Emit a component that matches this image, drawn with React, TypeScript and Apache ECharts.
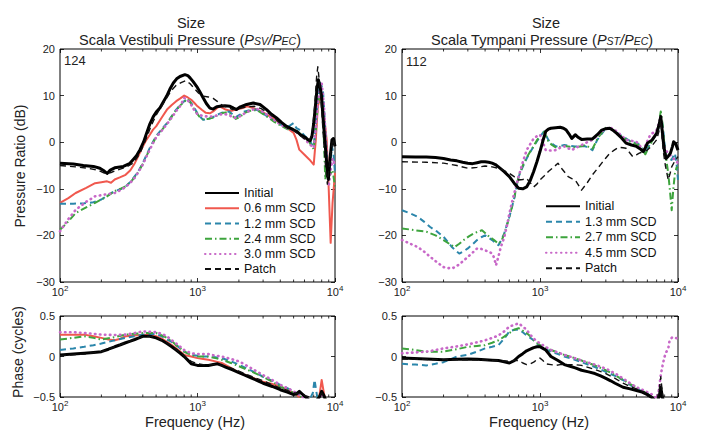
import React, { useEffect, useRef } from 'react';
import * as echarts from 'echarts';

const FONT = '"Liberation Sans", Arial, Helvetica, sans-serif';

// ---------- Data (frequency in Hz, value) ----------
const svInitial = [[100,-4.5],[125,-4.7],[148,-5.0],[175,-5.2],[195,-5.6],[210,-6.2],[220,-6.7],[232,-6.0],[250,-5.5],[289,-5.2],[320,-4.6],[341,-3.7],[360,-2.9],[382,-1.6],[405,0],[427,2.0],[450,3.9],[477,5.5],[505,6.6],[534,7.4],[565,8.7],[597,9.9],[630,11.4],[667,12.7],[705,13.6],[746,14.1],[810,14.5],[850,14.3],[883,13.8],[930,13.0],[985,12.0],[1040,10.8],[1101,9.5],[1160,8.3],[1231,7.3],[1300,7.1],[1380,7.6],[1458,7.7],[1580,7.8],[1724,7.7],[1830,7.3],[1921,7.0],[2050,7.6],[2276,8.1],[2546,8.4],[2846,8.1],[3180,7.0],[3450,6.0],[3760,5.2],[4100,4.2],[4450,3.4],[4800,2.9],[5270,2.3],[5600,1.6],[5880,1.3],[6150,0.9],[6390,0.5],[6600,0.3],[6800,1.3],[7000,4.0],[7200,7.7],[7400,11.5],[7570,13.4],[7750,12.2],[7960,10.2],[8200,5.0],[8430,0.5],[8700,-4.5],[8950,-8],[9200,-3.5],[9500,0.5],[9750,0.8],[10000,-0.9]];
const svPatch = [[100,-5.0],[130,-5.3],[160,-5.6],[190,-6.0],[215,-6.8],[235,-6.5],[260,-6.0],[300,-5.4],[340,-4.5],[380,-2.5],[420,0.5],[460,3.5],[500,5.8],[550,7.8],[600,9.6],[650,11.2],[700,12.2],[760,12.8],[820,13.2],[880,12.6],[950,11.5],[1020,10.5],[1100,9.9],[1200,9.7],[1300,9.4],[1400,8.7],[1500,8.0],[1650,7.5],[1800,7.0],[2000,7.2],[2300,7.6],[2600,7.7],[2900,7.2],[3200,6.5],[3600,5.3],[4000,4.0],[4500,3.0],[5000,2.5],[5500,1.5],[6000,0.7],[6500,0.4],[6800,1.5],[7100,7.5],[7350,14.0],[7500,16.2],[7700,13.0],[7950,8.0],[8200,2.0],[8500,-4.5],[8800,-9.0],[9100,-5.0],[9400,-1.0],[9700,0.8],[10000,-1.5]];
const sv06 = [[100,-13],[115,-12],[130,-10.9],[155,-9.8],[180,-8.8],[200,-8.6],[220,-8.4],[235,-8.7],[250,-8.0],[275,-7.5],[300,-7.0],[325,-6.0],[350,-4.5],[375,-2.7],[400,-0.9],[425,0.5],[450,1.6],[475,2.7],[500,3.4],[550,5.3],[600,7.0],[650,8.0],[700,8.8],[750,9.4],[800,10.0],[850,9.6],[900,9.1],[950,8.4],[1000,7.7],[1080,6.9],[1150,6.3],[1230,6.2],[1300,6.6],[1380,7.3],[1450,7.7],[1530,7.3],[1600,7.0],[1750,6.7],[1900,7.0],[2100,7.3],[2300,7.7],[2500,7.4],[2700,7.0],[3000,6.4],[3200,5.9],[3600,5.0],[4000,4.1],[4500,3.0],[5000,2.0],[5250,0.5],[5500,-1.6],[6000,-2.7],[6500,-3.7],[7000,-4.8],[7250,0.5],[7500,7.7],[7750,9.2],[8000,9.5],[8300,6.0],[8700,0.5],[9000,-10],[9300,-21.6],[9600,-13],[10000,-6.6]];
const sv12 = [[100,-13.2],[125,-13.2],[150,-13.1],[175,-12.9],[200,-12.3],[225,-11.3],[250,-10.5],[275,-10.1],[300,-9.5],[325,-8.5],[350,-7.3],[375,-6.0],[400,-4.5],[425,-2.8],[450,-1.2],[475,0.1],[500,1.3],[550,2.8],[600,4.1],[650,5.6],[700,7.0],[750,8.0],[800,8.8],[850,9.3],[900,8.4],[950,7.3],[1000,6.2],[1050,5.4],[1100,4.8],[1200,5.0],[1300,5.4],[1400,5.9],[1500,6.3],[1600,6.5],[1700,6.6],[1800,6.0],[1900,5.4],[2050,6.0],[2200,6.6],[2450,6.9],[2700,7.0],[2950,6.3],[3200,5.6],[3600,4.6],[4000,3.8],[4500,3.2],[5000,4.1],[5250,3.0],[5500,2.7],[6000,1.4],[6500,0.5],[6800,-0.5],[7000,-0.9],[7250,4.0],[7500,9.1],[7800,12.7],[8000,12.0],[8200,10.6],[8450,4.0],[8700,-2.3],[9000,-8],[9250,-4.5],[9500,-0.9],[9750,-2.5],[10000,-6.6]];
const sv24 = [[100,-18.8],[115,-17.0],[130,-15.2],[155,-14.0],[180,-13.0],[215,-11.8],[250,-10.5],[275,-10.0],[300,-9.5],[325,-8.6],[350,-7.5],[375,-6.2],[400,-4.7],[425,-3.0],[450,-1.5],[475,-0.1],[500,1.1],[550,2.6],[600,4.0],[650,5.5],[700,6.9],[750,7.9],[800,8.7],[850,9.3],[900,8.2],[950,7.0],[1000,6.0],[1050,5.2],[1100,4.9],[1200,5.0],[1300,5.3],[1400,5.8],[1500,6.2],[1600,6.4],[1700,6.3],[1800,5.6],[1900,5.0],[2050,5.5],[2200,6.3],[2450,6.8],[2700,6.9],[2950,6.2],[3200,5.5],[3600,4.4],[4000,3.6],[4500,2.8],[5000,2.9],[5500,2.0],[6000,1.0],[6500,0.0],[7000,-1.5],[7250,2.5],[7500,8.0],[7800,11.0],[8100,9.5],[8500,-8],[8800,-4],[9200,-7],[9600,-6],[10000,-9.5]];
const sv30 = [[100,-19.1],[115,-16.5],[130,-14.5],[155,-12.8],[180,-11.6],[215,-11.2],[250,-10.9],[275,-10.3],[300,-9.6],[325,-8.7],[350,-7.6],[375,-6.2],[400,-4.8],[425,-3.1],[450,-1.6],[475,-0.2],[500,1.0],[550,2.5],[600,3.9],[650,5.3],[700,6.7],[750,7.8],[800,9.5],[850,9.0],[900,8.0],[950,6.8],[1000,6.0],[1100,5.6],[1200,5.5],[1300,5.5],[1400,5.8],[1500,6.0],[1600,6.0],[1700,5.8],[1800,5.4],[1900,5.2],[2050,5.6],[2200,6.2],[2450,6.9],[2700,7.2],[2950,6.6],[3200,5.9],[3600,4.8],[4000,3.8],[4500,3.0],[5000,2.6],[5500,1.8],[6000,0.8],[6500,-0.4],[7000,-1.2],[7250,3.0],[7500,8.5],[7800,11.5],[8000,12.7],[8300,8.0],[8700,-3],[9000,-9.5],[9300,-6],[9600,-3.5],[10000,-5]];

const stInitial = [[100,-3.1],[125,-3.2],[150,-3.2],[175,-3.3],[200,-3.5],[225,-3.8],[250,-4.0],[275,-4.3],[300,-4.5],[325,-4.6],[350,-4.4],[375,-4.2],[400,-4.2],[425,-4.3],[450,-4.5],[475,-4.8],[500,-5.3],[550,-6.3],[600,-7.4],[650,-8.8],[700,-9.9],[750,-10.0],[800,-9.6],[850,-8.2],[900,-6.3],[950,-4.2],[1000,-2.0],[1050,0.3],[1100,2.3],[1150,2.8],[1200,3.0],[1300,3.1],[1400,3.2],[1480,3.0],[1550,2.6],[1620,1.8],[1700,0.8],[1750,1.2],[1800,1.6],[1900,1.0],[2000,0.6],[2200,0.7],[2400,0.7],[2600,1.6],[2800,2.6],[3000,2.9],[3200,3.0],[3400,2.5],[3600,1.9],[3900,0.9],[4200,-0.2],[4600,-0.6],[5000,-0.9],[5300,-1.4],[5600,-2.0],[5800,-1.2],[6000,-0.2],[6500,0.5],[7000,1.9],[7300,3.8],[7500,5.5],[7650,3.0],[7800,0.5],[8000,-2.0],[8200,-3.5],[8500,-3.0],[8800,-2.4],[9100,-1.0],[9300,0.1],[9600,-0.3],[10000,-1.7]];
const stPatch = [[100,-4.2],[150,-4.3],[200,-4.5],[250,-5.0],[300,-5.6],[350,-5.4],[400,-5.1],[450,-5.3],[500,-5.6],[550,-6.1],[600,-6.7],[650,-7.4],[700,-8.1],[750,-8.0],[800,-7.8],[850,-8.7],[900,-9.6],[950,-9.0],[1000,-8.1],[1075,-7.2],[1150,-6.3],[1250,-5.4],[1350,-4.5],[1450,-5.8],[1600,-7.4],[1700,-7.8],[1800,-8.1],[1900,-9.2],[2000,-10.3],[2200,-8.7],[2400,-7.0],[2600,-5.7],[2800,-4.5],[3000,-3.4],[3200,-2.4],[3450,-1.7],[3700,-1.1],[4000,-1.2],[4200,-1.3],[4450,-2.2],[4700,-3.1],[5000,-2.7],[5200,-2.4],[5600,-2.0],[6000,-1.7],[6500,-0.7],[7000,0.5],[7300,2.5],[7500,4.8],[7650,1.5],[7800,-1.7],[8100,-5.0],[8500,-8.1],[8800,-6.5],[9000,-5.3],[9500,-4.0],[10000,-3.1]];
const st13 = [[100,-14.6],[115,-15.3],[130,-16.0],[145,-17.1],[160,-18.2],[180,-19.2],[200,-20.3],[215,-21.4],[230,-22.5],[245,-23.3],[260,-23.9],[280,-23.4],[300,-22.8],[325,-21.9],[350,-21.0],[375,-20.4],[400,-20.0],[425,-20.5],[450,-21.0],[475,-21.6],[500,-22.1],[525,-21.0],[550,-19.6],[575,-17.8],[600,-16.0],[625,-14.0],[650,-12.1],[675,-9.7],[700,-7.4],[750,-5.3],[800,-3.5],[850,-2.1],[900,-0.9],[950,0.2],[1000,1.2],[1070,2.3],[1150,0.5],[1220,-0.3],[1300,-0.9],[1400,-0.8],[1500,-0.6],[1650,-0.8],[1800,-0.9],[1950,-0.9],[2100,-0.8],[2250,-1.2],[2400,-1.7],[2500,-0.6],[2600,0.5],[2800,1.8],[3000,3.0],[3200,2.9],[3400,2.6],[3700,1.8],[4000,1.2],[4300,0.6],[4600,0.1],[5000,-0.2],[5300,-0.6],[5550,-1.5],[5800,-2.4],[6100,-1.0],[6500,0.5],[7000,1.6],[7300,3.5],[7500,5.2],[7650,4.5],[7800,3.0],[8000,-0.5],[8200,-3.1],[8600,-3.5],[9000,-3.8],[9250,-3.0],[9500,-2.4],[9750,-4.5],[10000,-8.1]];
const st27 = [[100,-18.5],[125,-18.9],[150,-19.2],[175,-20.0],[200,-21.0],[220,-21.8],[240,-22.5],[260,-21.8],[280,-21.0],[305,-20.2],[330,-19.6],[355,-19.2],[380,-18.9],[405,-19.6],[430,-20.3],[465,-21.0],[500,-21.8],[525,-21.2],[550,-19.8],[575,-17.9],[600,-16.0],[625,-14.0],[650,-12.0],[675,-9.5],[700,-7.3],[750,-5.0],[800,-3.3],[850,-2.0],[900,-0.8],[950,0.4],[1000,1.4],[1070,2.2],[1150,0.2],[1220,-0.6],[1300,-1.1],[1400,-1.0],[1500,-0.8],[1650,-1.0],[1800,-1.1],[1950,-0.9],[2100,-0.7],[2250,-1.0],[2400,-1.4],[2500,-0.4],[2600,0.7],[2800,2.0],[3000,3.1],[3200,3.0],[3400,2.6],[3700,1.7],[4000,1.0],[4300,0.4],[4600,0.0],[5000,-0.4],[5300,-0.8],[5550,-1.8],[5800,-2.6],[6100,-1.2],[6500,0.3],[7000,1.8],[7300,4.5],[7500,6.6],[7650,5.0],[7800,2.5],[8000,-1.0],[8250,-4.0],[8500,-6.7],[8750,-10.5],[9000,-14.6],[9250,-10.0],[9500,-6.7],[9750,-5.5],[10000,-5.3]];
const st45 = [[100,-21],[115,-21.8],[130,-22.5],[145,-23.5],[160,-24.6],[180,-25.8],[200,-26.8],[215,-27.0],[230,-27.1],[245,-26.7],[260,-26.2],[280,-25.4],[300,-24.6],[325,-23.7],[350,-22.8],[375,-22.9],[400,-23.2],[425,-23.5],[450,-23.9],[465,-24.8],[480,-26.4],[500,-24.5],[520,-22.5],[550,-20.5],[575,-18.0],[600,-15.3],[625,-13.0],[650,-11.0],[675,-9.2],[700,-7.4],[750,-4.3],[800,-1.7],[850,-0.4],[900,0.8],[950,1.3],[1000,1.6],[1050,0.0],[1100,-1.7],[1200,-1.8],[1300,-1.7],[1400,-1.2],[1500,-0.9],[1600,-1.3],[1700,-1.7],[1850,-1.1],[2000,-0.6],[2200,0.0],[2400,0.5],[2600,1.4],[2800,2.3],[3000,2.9],[3200,3.2],[3400,2.8],[3600,2.3],[3900,1.4],[4200,0.5],[4600,0.3],[5000,0.1],[5300,-0.8],[5600,-1.7],[5950,0.0],[6300,1.6],[6650,2.1],[7000,2.6],[7300,4.2],[7500,5.5],[7700,2.5],[7900,-0.9],[8200,-1.8],[8500,-2.4],[9000,-3.1],[9500,-3.8],[10000,-4.5]];

const phSvInitial = [[100,0.02],[125,0.03],[150,0.04],[175,0.05],[200,0.06],[225,0.09],[250,0.12],[275,0.145],[300,0.17],[325,0.19],[350,0.21],[375,0.23],[400,0.25],[450,0.25],[500,0.23],[550,0.2],[600,0.16],[650,0.12],[700,0.08],[750,0.04],[800,0.0],[850,-0.045],[900,-0.09],[950,-0.1],[1000,-0.11],[1100,-0.11],[1200,-0.11],[1300,-0.1],[1400,-0.09],[1500,-0.11],[1600,-0.13],[1800,-0.165],[2000,-0.2],[2250,-0.235],[2500,-0.27],[2750,-0.3],[3000,-0.33],[3500,-0.37],[4000,-0.41],[4500,-0.44],[5000,-0.47],[5250,-0.46],[5500,-0.43],[5750,-0.46],[6000,-0.49],[6300,-0.52],[6800,-0.58],[7300,-0.55],[7700,-0.5],[8000,-0.43],[8300,-0.48],[8600,-0.55],[9000,-0.6],[10000,-0.65]];
const phSvPatch = [[100,0.01],[150,0.03],[200,0.06],[250,0.12],[300,0.17],[350,0.21],[400,0.245],[450,0.25],[500,0.235],[600,0.17],[700,0.09],[800,0.01],[900,-0.06],[1000,-0.09],[1100,-0.1],[1200,-0.1],[1400,-0.1],[1600,-0.12],[1800,-0.15],[2000,-0.18],[2500,-0.25],[3000,-0.3],[3500,-0.35],[4000,-0.39],[4500,-0.42],[5000,-0.45],[5500,-0.46],[6000,-0.48],[6500,-0.5],[7000,-0.55],[7600,-0.5],[8000,-0.45],[8400,-0.52],[9000,-0.6],[10000,-0.65]];
const phSv06 = [[100,0.27],[125,0.27],[150,0.27],[175,0.25],[200,0.23],[225,0.21],[250,0.2],[275,0.22],[300,0.25],[350,0.26],[400,0.27],[450,0.265],[500,0.25],[550,0.22],[600,0.18],[650,0.14],[700,0.1],[750,0.06],[800,0.02],[850,0.01],[900,0.0],[1000,-0.02],[1100,-0.03],[1200,-0.04],[1350,-0.06],[1500,-0.08],[1750,-0.14],[2000,-0.2],[2500,-0.26],[3000,-0.31],[3500,-0.34],[4000,-0.37],[4500,-0.41],[5000,-0.45],[5500,-0.5],[6000,-0.55],[7000,-0.62],[7600,-0.55],[8000,-0.29],[8300,-0.45],[8500,-0.55],[9000,-0.65],[10000,-0.7]];
const phSv12 = [[100,0.08],[125,0.1],[150,0.12],[175,0.14],[200,0.16],[250,0.2],[300,0.23],[350,0.25],[400,0.27],[450,0.275],[500,0.28],[550,0.25],[600,0.21],[650,0.18],[700,0.14],[750,0.1],[800,0.06],[850,0.04],[900,0.02],[1000,0.01],[1100,0.0],[1200,0.0],[1350,-0.01],[1500,-0.02],[1750,-0.06],[2000,-0.1],[2500,-0.18],[3000,-0.25],[3500,-0.3],[4000,-0.35],[4500,-0.39],[5000,-0.43],[5500,-0.47],[6000,-0.51],[6500,-0.54],[6900,-0.45],[7100,-0.29],[7300,-0.42],[7500,-0.55],[8000,-0.6],[10000,-0.7]];
const phSv24 = [[100,0.21],[125,0.23],[150,0.25],[175,0.23],[200,0.21],[250,0.24],[300,0.27],[350,0.28],[400,0.29],[450,0.29],[500,0.29],[550,0.26],[600,0.23],[650,0.19],[700,0.14],[750,0.1],[800,0.06],[900,0.02],[1000,0.0],[1100,0.0],[1200,0.0],[1350,-0.02],[1500,-0.04],[1750,-0.08],[2000,-0.12],[2500,-0.19],[3000,-0.25],[3500,-0.31],[4000,-0.37],[4500,-0.41],[5000,-0.45],[5500,-0.49],[6000,-0.52],[7000,-0.58],[7600,-0.5],[8000,-0.45],[8500,-0.58],[10000,-0.7]];
const phSv30 = [[100,0.3],[125,0.3],[150,0.29],[175,0.28],[200,0.27],[250,0.265],[300,0.27],[350,0.29],[400,0.31],[450,0.305],[500,0.3],[550,0.28],[600,0.25],[650,0.2],[700,0.16],[750,0.12],[800,0.08],[900,0.04],[1000,0.03],[1100,0.03],[1200,0.03],[1350,0.01],[1500,0.0],[1750,-0.03],[2000,-0.06],[2500,-0.15],[3000,-0.23],[3500,-0.29],[4000,-0.35],[4500,-0.39],[5000,-0.43],[5500,-0.47],[6000,-0.52],[7000,-0.58],[7600,-0.52],[8000,-0.47],[8500,-0.58],[10000,-0.7]];

const phStInitial = [[100,-0.02],[150,-0.03],[200,-0.04],[250,-0.035],[300,-0.03],[350,-0.035],[400,-0.04],[450,-0.045],[500,-0.05],[550,-0.065],[600,-0.08],[650,-0.05],[700,0.0],[750,0.035],[800,0.07],[850,0.09],[900,0.11],[950,0.12],[1000,0.12],[1050,0.1],[1100,0.08],[1150,0.04],[1200,0.0],[1350,-0.05],[1500,-0.1],[1650,-0.12],[1800,-0.14],[2000,-0.17],[2250,-0.19],[2500,-0.21],[2750,-0.24],[3000,-0.27],[3250,-0.3],[3500,-0.33],[4000,-0.38],[4500,-0.4],[5000,-0.42],[5500,-0.44],[6000,-0.47],[6500,-0.51],[7000,-0.56],[7300,-0.5],[7500,-0.38],[7700,-0.5],[8000,-0.6],[10000,-0.7]];
const phStPatch = [[100,-0.03],[200,-0.04],[300,-0.04],[400,-0.045],[500,-0.05],[600,-0.06],[650,-0.05],[700,-0.05],[750,-0.08],[800,-0.1],[850,-0.09],[900,-0.07],[950,-0.04],[1000,-0.02],[1050,-0.05],[1100,-0.09],[1200,-0.1],[1300,-0.11],[1400,-0.1],[1500,-0.1],[1750,-0.1],[2000,-0.11],[2500,-0.16],[3000,-0.21],[3500,-0.27],[4000,-0.33],[4500,-0.37],[5000,-0.4],[5500,-0.43],[6000,-0.46],[6500,-0.5],[7000,-0.55],[7300,-0.42],[7500,-0.25],[7700,-0.45],[8000,-0.6],[10000,-0.7]];
const phSt13 = [[100,-0.09],[125,-0.1],[150,-0.11],[175,-0.09],[200,-0.07],[225,-0.035],[250,0.0],[300,0.02],[350,0.06],[400,0.1],[450,0.12],[500,0.14],[550,0.22],[600,0.31],[650,0.33],[700,0.33],[750,0.3],[800,0.26],[850,0.23],[900,0.2],[950,0.16],[1000,0.12],[1100,0.09],[1200,0.06],[1350,0.03],[1500,0.0],[1750,-0.035],[2000,-0.07],[2500,-0.13],[3000,-0.19],[3500,-0.24],[4000,-0.29],[4500,-0.35],[5000,-0.4],[5500,-0.43],[6000,-0.46],[6500,-0.5],[7000,-0.55],[7300,-0.5],[7500,-0.42],[7700,-0.5],[8000,-0.6],[10000,-0.7]];
const phSt27 = [[100,0.1],[125,0.08],[150,0.06],[175,0.06],[200,0.06],[250,0.09],[300,0.12],[350,0.13],[400,0.14],[450,0.17],[500,0.2],[550,0.245],[600,0.29],[650,0.33],[700,0.35],[750,0.32],[800,0.29],[850,0.25],[900,0.2],[950,0.17],[1000,0.14],[1100,0.11],[1200,0.08],[1350,0.05],[1500,0.02],[1750,-0.015],[2000,-0.05],[2500,-0.11],[3000,-0.17],[3500,-0.23],[4000,-0.29],[4500,-0.34],[5000,-0.38],[5500,-0.42],[6000,-0.46],[6500,-0.5],[7000,-0.55],[7300,-0.5],[7500,-0.4],[7700,-0.5],[8000,-0.6],[10000,-0.7]];
const phSt45 = [[100,0.04],[125,0.05],[150,0.06],[175,0.08],[200,0.1],[250,0.125],[300,0.15],[350,0.175],[400,0.2],[450,0.23],[500,0.26],[550,0.31],[600,0.37],[650,0.39],[700,0.41],[750,0.37],[800,0.33],[850,0.27],[900,0.22],[950,0.19],[1000,0.16],[1100,0.12],[1200,0.08],[1350,0.05],[1500,0.02],[1750,-0.015],[2000,-0.05],[2500,-0.1],[3000,-0.15],[3500,-0.21],[4000,-0.27],[4500,-0.33],[5000,-0.38],[5500,-0.41],[6000,-0.44],[6500,-0.47],[7000,-0.52],[7250,-0.42],[7500,-0.23],[7750,-0.1],[8000,0.0],[8250,0.06],[8500,0.1],[8700,0.2],[9000,0.23],[9200,0.24],[9600,0.23],[10000,0.22]];

const legendLeft = ['Initial', '0.6 mm SCD', '1.2 mm SCD', '2.4 mm SCD', '3.0 mm SCD', 'Patch'];
const legendRight = ['Initial', '1.3 mm SCD', '2.7 mm SCD', '4.5 mm SCD', 'Patch'];
const minorFreqs = [200, 300, 400, 500, 600, 700, 800, 900, 2000, 3000, 4000, 5000, 6000, 7000, 8000, 9000];
const yRanges = [[-30, 20, 10], [-30, 20, 10], [-0.5, 0.5, 0.5], [-0.5, 0.5, 0.5]];

// ---------- Styles ----------
const STY: Record<string, any> = {
  initial: { color: '#000000', width: 3, type: 'solid' },
  red: { color: '#f0584e', width: 2, type: 'solid' },
  blue: { color: '#2b86ab', width: 2, type: [6, 4] },
  green: { color: '#3da43d', width: 2, type: [7, 3, 1.5, 3] },
  magenta: { color: '#c868c8', width: 2.6, type: [0.5, 4.5], cap: 'round' },
  patch: { color: '#111111', width: 1.4, type: [6, 4] },
};

const grids = [
  { left: 60, top: 49, width: 275, height: 233 },
  { left: 402, top: 49, width: 276, height: 233 },
  { left: 60, top: 316, width: 275, height: 81 },
  { left: 402, top: 316, width: 276, height: 81 },
];

function line(name: string, data: number[][], g: number, s: string) {
  const st = STY[s];
  return {
    type: 'line', name, data, xAxisIndex: g, yAxisIndex: g,
    symbol: 'none', showSymbol: false, clip: true,
    lineStyle: { color: st.color, width: st.width, type: st.type, cap: st.cap || 'butt', join: 'round' },
    itemStyle: { color: st.color },
    emphasis: { disabled: true },
  };
}

function minorTicks(g: number) {
  const [ymin, ymax] = yRanges[g];
  return {
    type: 'custom', xAxisIndex: g, yAxisIndex: g, silent: true, clip: false,
    data: minorFreqs.map((f) => [f, ymin]),
    renderItem: (params: any, api: any) => {
      const f = api.value(0);
      const b = api.coord([f, ymin]);
      const t = api.coord([f, ymax]);
      return {
        type: 'group',
        children: [
          { type: 'line', shape: { x1: b[0], y1: b[1], x2: b[0], y2: b[1] - 2.5 }, style: { stroke: '#000', lineWidth: 0.8 } },
          { type: 'line', shape: { x1: t[0], y1: t[1], x2: t[0], y2: t[1] + 2.5 }, style: { stroke: '#000', lineWidth: 0.8 } },
        ],
      };
    },
  };
}

const supRich = {
  b: { fontSize: 11, fontFamily: FONT, color: '#222' },
  s: { fontSize: 8, fontFamily: FONT, color: '#222', padding: [0, 0, 8, 0] },
};

const xAxes: any[] = [];
const yAxes: any[] = [];
for (let g = 0; g < 4; g++) {
  for (const pos of ['bottom', 'top']) {
    xAxes.push({
      type: 'log', logBase: 10, gridIndex: g, min: 100, max: 10000, position: pos, splitNumber: 2,
      axisLine: { show: false, onZero: false },
      axisTick: { show: true, inside: true, length: 4, lineStyle: { color: '#000', width: 0.8 } },
      splitLine: { show: false },
      axisLabel: {
        show: pos === 'bottom', margin: 2, color: '#222',
        formatter: (v: number) => '{b|10}{s|' + Math.round(Math.log10(v)) + '}',
        rich: supRich,
      },
    });
  }
  const [mn, mx, iv] = yRanges[g];
  for (const pos of ['left', 'right']) {
    yAxes.push({
      type: 'value', gridIndex: g, min: mn, max: mx, interval: iv, position: pos,
      axisLine: { show: false, onZero: false },
      axisTick: { show: true, inside: true, length: 4, lineStyle: { color: '#000', width: 0.8 } },
      splitLine: { show: false },
      axisLabel: {
        show: pos === 'left', margin: 5, color: '#222', fontSize: 11, fontFamily: FONT,
        formatter: (v: number) => String(v).replace('-', '\u2212'),
      },
    });
  }
}

// bottom/left axes of grid g are at index 2g
const series: any[] = [
  line('0.6 mm SCD', sv06, 0, 'red'),
  line('1.2 mm SCD', sv12, 0, 'blue'),
  line('2.4 mm SCD', sv24, 0, 'green'),
  line('3.0 mm SCD', sv30, 0, 'magenta'),
  line('Initial', svInitial, 0, 'initial'),
  line('Patch', svPatch, 0, 'patch'),
  line('1.3 mm SCD', st13, 1, 'blue'),
  line('2.7 mm SCD', st27, 1, 'green'),
  line('4.5 mm SCD', st45, 1, 'magenta'),
  line('Initial', stInitial, 1, 'initial'),
  line('Patch', stPatch, 1, 'patch'),
  line('0.6 mm SCD', phSv06, 2, 'red'),
  line('1.2 mm SCD', phSv12, 2, 'blue'),
  line('2.4 mm SCD', phSv24, 2, 'green'),
  line('3.0 mm SCD', phSv30, 2, 'magenta'),
  line('Initial', phSvInitial, 2, 'initial'),
  line('Patch', phSvPatch, 2, 'patch'),
  line('1.3 mm SCD', phSt13, 3, 'blue'),
  line('2.7 mm SCD', phSt27, 3, 'green'),
  line('4.5 mm SCD', phSt45, 3, 'magenta'),
  line('Initial', phStInitial, 3, 'initial'),
  line('Patch', phStPatch, 3, 'patch'),
  minorTicks(0), minorTicks(1), minorTicks(2), minorTicks(3),
].map((s) => ({ ...s, xAxisIndex: s.xAxisIndex * 2, yAxisIndex: s.yAxisIndex * 2 }));

const titleRich = {
  n: { fontSize: 14.5, fontFamily: FONT, fill: '#222', verticalAlign: 'bottom' },
  i: { fontSize: 14.5, fontFamily: FONT, fontStyle: 'italic', fill: '#222', verticalAlign: 'bottom' },
  s: { fontSize: 10.5, fontFamily: FONT, fontStyle: 'italic', fill: '#222', verticalAlign: 'bottom', padding: [0, 0, 1, 0] },
};

function txt(text: string, x: number, y: number, opts: any = {}) {
  return {
    type: 'text', x, y, rotation: opts.rotation || 0, silent: true,
    style: {
      text, fill: '#222', font: `${opts.size || 14.5}px ${FONT}`,
      textAlign: opts.align || 'center', textVerticalAlign: 'middle', rich: opts.rich,
    },
  };
}

const legendCommon = {
  orient: 'vertical', itemWidth: 34, itemHeight: 10, itemGap: 0, padding: 0, selectedMode: false,
  itemStyle: { opacity: 0 },
};

const option: any = {
  animation: false,
  backgroundColor: '#ffffff',
  grid: grids.map((g) => ({ ...g, show: true, borderColor: '#000', borderWidth: 1, backgroundColor: 'transparent', containLabel: false })),
  xAxis: xAxes,
  yAxis: yAxes,
  legend: [
    {
      ...legendCommon, data: legendLeft, left: 204, top: 185.5,
      textStyle: { fontSize: 12.5, lineHeight: 15.2, color: '#111', fontFamily: FONT },
    },
    {
      ...legendCommon, data: legendRight, left: 545, top: 198.5,
      textStyle: { fontSize: 12.5, lineHeight: 15.5, color: '#111', fontFamily: FONT },
    },
  ],
  graphic: [
    txt('Size', 191, 23),
    txt('{n|Scala Vestibuli Pressure (}{i|P}{s|SV}{i|/P}{s|EC}{n|)}', 190, 40, { rich: titleRich }),
    txt('Size', 546, 23),
    txt('{n|Scala Tympani Pressure (}{i|P}{s|ST}{i|/P}{s|EC}{n|)}', 542, 40, { rich: titleRich }),
    txt('124', 64, 60, { align: 'left', size: 13 }),
    txt('112', 406, 61, { align: 'left', size: 13 }),
    txt('Pressure Ratio (dB)', 20, 166, { rotation: Math.PI / 2, size: 14 }),
    txt('Phase (cycles)', 18, 352, { rotation: Math.PI / 2, size: 14 }),
    txt('Frequency (Hz)', 195, 422, { size: 14.5 }),
    txt('Frequency (Hz)', 539, 422, { size: 14.5 }),
  ],
  series,
};

export default function App() {
  const ref = useRef<HTMLDivElement>(null);
  useEffect(() => {
    const chart = echarts.init(ref.current!, null, { renderer: 'svg' });
    chart.setOption(option);
    return () => chart.dispose();
  }, []);
  return (
    <div
      ref={ref}
      style={{ position: 'fixed', left: 0, top: 0, width: 701, height: 448, background: '#fff' }}
    />
  );
}
